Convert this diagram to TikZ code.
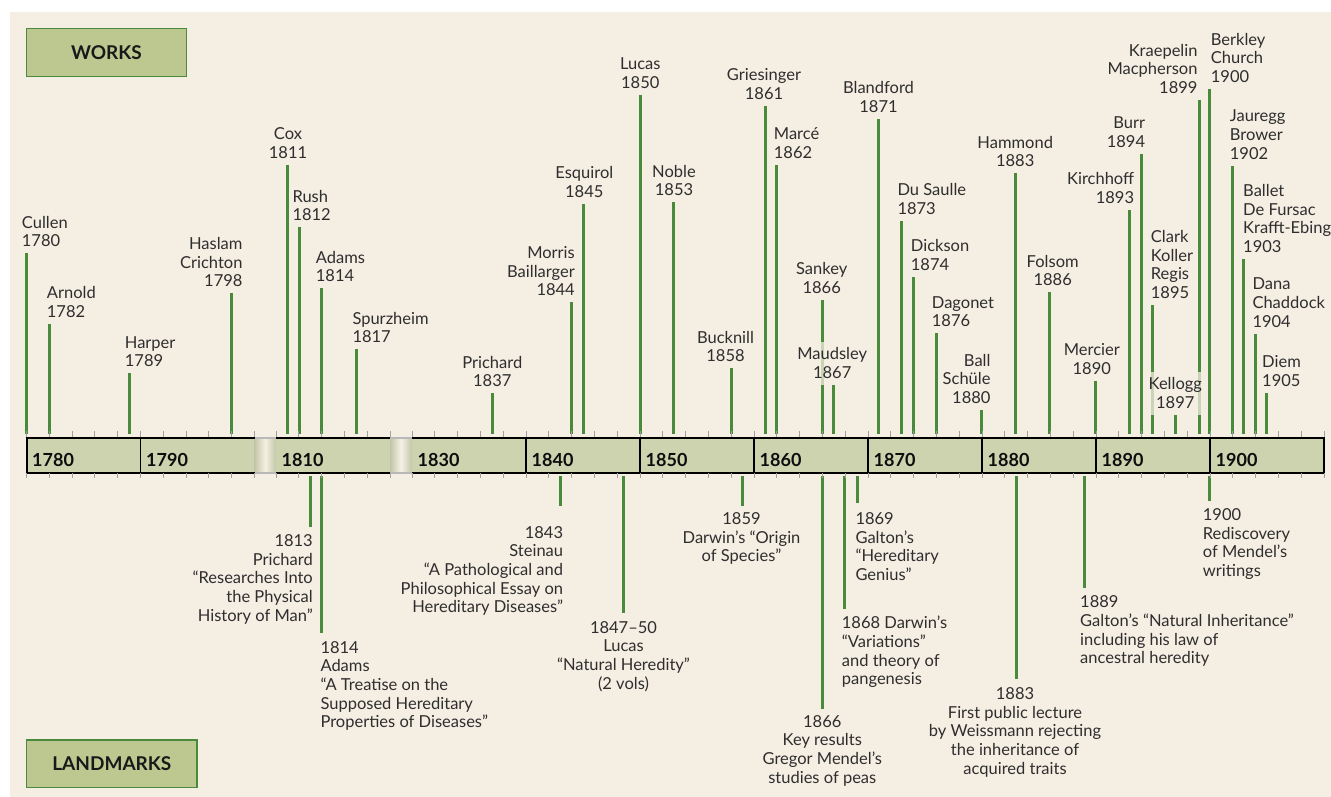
\documentclass[tikz,border=0pt]{standalone}
\usepackage{fontspec}
\setmainfont{Lato}
\definecolor{bgc}{HTML}{F5EEE3}
\definecolor{barc}{HTML}{CDD3AE}
\definecolor{brkc}{HTML}{C3C7A8}
\definecolor{brkm}{HTML}{F4F0E4}
\definecolor{boxc}{HTML}{BCC88F}
\definecolor{grn}{HTML}{4A8B3B}
\definecolor{txt}{HTML}{2E2E2E}
\definecolor{tickc}{HTML}{A0A0A0}
\pgfdeclarelayer{back}
\pgfdeclarelayer{lines}
\pgfsetlayers{back,lines,main}
\tikzset{
  wline/.style={draw=grn, line width=3pt},
  lbl/.style={inner sep=0pt, font=\fontsize{16.5}{18.7}\selectfont, text=txt},
  lft/.style={anchor=south west, align=left},
  ctr/.style={anchor=south, align=center},
  rgt/.style={anchor=south east, align=right},
  llft/.style={anchor=north west, align=left},
  lctr/.style={anchor=north, align=center},
  lrgt/.style={anchor=north east, align=right},
  veil/.style={fill=bgc, fill opacity=0.75, text opacity=1, inner xsep=2pt, inner ysep=6pt, yshift=-6pt},
  tickmark/.style={draw=tickc, line width=1pt},
  hdr/.style={draw=grn, fill=boxc, line width=1.5pt, text=black!90, font=\bfseries\fontsize{19}{22}\selectfont},
  yearlbl/.style={anchor=base west, inner sep=0pt, text=black!95, font=\bfseries\fontsize{18}{20}\selectfont},
}
\newcommand\wk[6]{%
  \begin{pgfonlayer}{lines}
  \draw[wline] (#2,434) coordinate (#1b) -- (#2,#3) coordinate (#1t);
  \end{pgfonlayer}
  \node[lbl,#4] (#1) at (#5,#3-6) {#6};
}
\newcommand\lm[7]{%
  \begin{pgfonlayer}{lines}
  \draw[wline] (#2,476) coordinate (#1b) -- (#2,#3) coordinate (#1t);
  \end{pgfonlayer}
  \node[lbl,#4] (#1) at (#5,#6-11.8) {#7};
}
\begin{document}
\begin{tikzpicture}[x=1pt,y=-1pt]
\useasboundingbox (0,0) rectangle (1331,797);
\begin{pgfonlayer}{back}
\fill[white] (0,0) rectangle (1331,797);
\fill[bgc] (10,12) rectangle (1331,797);
\end{pgfonlayer}

% header boxes
\node[hdr, minimum width=159.6pt, minimum height=48pt] (works) at (106.5,52.7) {WORKS};
\node[hdr, minimum width=170.3pt, minimum height=47.7pt] (landmarks) at (111.85,763.85) {LANDMARKS};

% timeline bar
\fill[barc] (26.5,437.5) rectangle (1323.5,472.5);
\shade[left color=brkc, right color=brkc, middle color=brkm] (254.5,437.5) rectangle (276,472.5);
\shade[left color=brkc, right color=brkc, middle color=brkm] (390,437.5) rectangle (412,472.5);
\draw[line width=2pt] (25.5,437.5) -- (1324.5,437.5);
\draw[line width=2pt] (25.5,472.5) -- (1324.5,472.5);
\draw[line width=2pt, draw=gray!55] (254.5,437.5) -- (276,437.5) (254.5,472.5) -- (276,472.5);
\draw[line width=2pt, draw=gray!55] (390,437.5) -- (412,437.5) (390,472.5) -- (412,472.5);
\draw[line width=2pt] (26.5,437.5) -- (26.5,472.5) (1323.5,437.5) -- (1323.5,472.5);
\foreach \x in {140.5,526,640,754,868,982,1096,1210}
  \draw[line width=1.2pt] (\x,437.5) -- (\x,472.5);
\foreach \x/\y in {26.5/1780,140.5/1790,276/1810,412/1830,526/1840,640/1850,754/1860,868/1870,982/1880,1096/1890,1210/1900}
  \node[yearlbl] (yr\y) at (\x+5.5,466.7) {\y};
% ticks
\foreach \i in {0,...,10}
  \draw[tickmark] ({26.5+22.8*\i},431) -- ({26.5+22.8*\i},437) ({26.5+22.8*\i},473) -- ({26.5+22.8*\i},478);
\foreach \i in {0,...,5}
  \draw[tickmark] ({276+22.8*\i},431) -- ({276+22.8*\i},437) ({276+22.8*\i},473) -- ({276+22.8*\i},478);
\foreach \i in {0,...,40}
  \draw[tickmark] ({412+22.8*\i},431) -- ({412+22.8*\i},437) ({412+22.8*\i},473) -- ({412+22.8*\i},478);

% works
\wk{cullen}{26.5}{253.3}{lft}{21.7}{Cullen\\1780}
\wk{arnold}{49.3}{324}{lft}{46.7}{Arnold\\1782}
\wk{harper}{129.3}{373.3}{lft}{124.7}{Harper\\1789}
\wk{haslam}{231.5}{293.3}{rgt}{242.7}{Haslam\\Crichton\\1798}
\wk{cox}{287.4}{165}{ctr}{288}{Cox\\1811}
\wk{rush}{299.3}{227.3}{lft}{292.3}{Rush\\1812}
\wk{adams}{321.3}{288.3}{lft}{315.7}{Adams\\1814}
\wk{spurz}{356.3}{349.3}{lft}{352.3}{Spurzheim\\1817}
\wk{prichard}{492.3}{393.3}{ctr}{492.3}{Prichard\\1837}
\wk{morris}{571.7}{302.3}{rgt}{575}{Morris\\Baillarger\\1844}
\wk{esquirol}{583.3}{204}{ctr}{584.3}{Esquirol\\1845}
\wk{lucas}{640.3}{95}{ctr}{640.3}{Lucas\\1850}
\wk{noble}{673.3}{202.3}{ctr}{674}{Noble\\1853}
\wk{bucknill}{731.3}{368.3}{ctr}{725.5}{Bucknill\\1858}
\wk{gries}{765.3}{106}{ctr}{764}{Griesinger\\1861}
\wk{marce}{776.3}{165}{lft}{773.7}{Marcé\\1862}
\wk{sankey}{822.3}{300}{ctr}{821.7}{Sankey\\1866}
\wk{blandford}{878.3}{119}{ctr}{878.5}{Blandford\\1871}
\wk{dusaulle}{901.3}{221}{lft}{897.3}{Du Saulle\\1873}
\wk{dickson}{913.3}{277}{lft}{910.7}{Dickson\\1874}
\wk{dagonet}{936.3}{333.3}{lft}{931.7}{Dagonet\\1876}
\wk{ball}{981.3}{410}{rgt}{990.7}{Ball\\Schüle\\1880}
\wk{hammond}{1015.3}{173.3}{ctr}{1015.2}{Hammond\\1883}
\wk{folsom}{1049.3}{292.3}{ctr}{1052.7}{Folsom\\1886}
\wk{mercier}{1095.3}{381}{ctr}{1091.8}{Mercier\\1890}
\wk{kirch}{1129.3}{210}{rgt}{1134.3}{Kirchhoff\\1893}
\wk{burr}{1141.3}{154}{rgt}{1145.3}{Burr\\1894}
\wk{clark}{1152.3}{305}{lft}{1150.7}{Clark\\Koller\\Regis\\1895}
\wk{kraep}{1199.3}{100}{rgt}{1197.7}{Kraepelin\\Macpherson\\1899}
\wk{berkley}{1209.3}{89}{lft}{1210.7}{Berkley\\Church\\1900}
\wk{jauregg}{1232.3}{165.7}{lft}{1229.7}{Jauregg\\Brower\\1902}
\wk{ballet}{1243.3}{259}{lft}{1243}{Ballet\\De Fursac\\Krafft-Ebing\\1903}
\wk{dana}{1255.3}{333.7}{lft}{1252.3}{Dana\\Chaddock\\1904}
\wk{diem}{1266.3}{393}{lft}{1262}{Diem\\1905}
\wk{maudsley}{833.3}{385}{ctr,veil}{832.2}{Maudsley\\1867}
\wk{kellogg}{1175.3}{415}{ctr,veil}{1175.3}{Kellogg\\1897}

% landmarks
\lm{l1813}{310.3}{526.7}{lrgt}{313}{546}{1813\\Prichard\\“Researches Into\\the Physical\\History of Man”}
\lm{l1814}{321.3}{633.3}{llft}{320.3}{652.7}{1814\\Adams\\“A Treatise on the\\Supposed Hereditary\\Properties of Diseases”}
\lm{l1843}{560.3}{505.7}{lrgt}{563.3}{537.7}{1843\\Steinau\\“A Pathological and\\Philosophical Essay on\\Hereditary Diseases”}
\lm{l1847}{623.3}{613.3}{lctr}{623.5}{632.7}{1847–50\\Lucas\\“Natural Heredity”\\(2 vols)}
\lm{l1859}{742.3}{505.7}{lctr}{741.5}{524}{1859\\Darwin’s “Origin\\of Species”}
\lm{l1866}{822.3}{708.7}{lctr}{822.3}{726.7}{1866\\Key results\\Gregor Mendel’s\\studies of peas}
\lm{l1868}{844.3}{608.7}{llft}{841.7}{627.7}{1868 Darwin’s\\“Variations”\\and theory of\\pangenesis}
\lm{l1869}{857}{502.7}{llft}{855.3}{524}{1869\\Galton’s\\“Hereditary\\Genius”}
\lm{l1883}{1016}{679.3}{lctr}{1015}{699}{1883\\First public lecture\\by Weissmann rejecting\\the inheritance of\\acquired traits}
\lm{l1889}{1084.3}{587.7}{llft}{1080}{607.3}{1889\\Galton’s “Natural Inheritance”\\including his law of\\ancestral heredity}
\lm{l1900}{1209.3}{500.7}{llft}{1202.7}{520}{1900\\Rediscovery\\of Mendel’s\\writings}
\end{tikzpicture}
\end{document}
